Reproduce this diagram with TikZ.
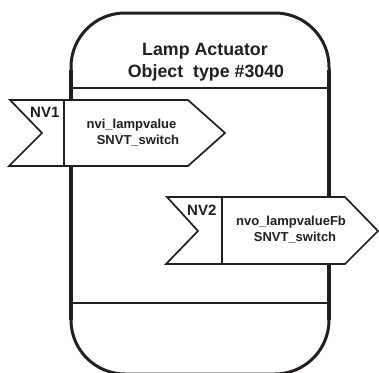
\documentclass[tikz,border=0pt]{standalone}
\usepackage{fontspec}
\setmainfont{Liberation Sans}
\definecolor{ink}{HTML}{231F20}
\begin{document}
\begin{tikzpicture}[x=1pt,y=-1pt,
  outline/.style={draw=ink,line width=3pt},
  sideline/.style={draw=ink,line width=4pt},
  sepline/.style={draw=ink,line width=2.8pt},
  flagshape/.style={draw=ink,fill=white,line width=1.7pt,line join=miter},
  titletext/.style={font=\bfseries\fontsize{17.8}{20}\selectfont,text=ink,inner sep=0pt,anchor=base},
  nvtext/.style={font=\bfseries\fontsize{15}{18}\selectfont,text=ink,inner sep=0pt,anchor=base west},
  vartext/.style={font=\bfseries\fontsize{13}{16}\selectfont,text=ink,inner sep=0pt,anchor=base}]
\useasboundingbox (0,0) rectangle (379,372);
\clip (0,0) rectangle (379,372);
% outer rounded body
\draw[outline,rounded corners=54pt] (71,374) rectangle (329,13);
\draw[sideline] (71,70) -- (71,320);
\draw[sideline] (329,70) -- (329,320);
% separators
\draw[sepline] (71,88) -- (329,88);
\draw[sepline] (71,303) -- (329,303);
% title
\node[titletext] (t1) at (205,55) {Lamp Actuator};
\node[titletext] (t2) at (206,77) {Object\ \ type \#3040};
% NV1 flag
\draw[flagshape] (10,100) -- (188,100) -- (225,133) -- (188,166) -- (9,166) -- (42,133) -- cycle;
\draw[ink,line width=1.7pt] (64,100) -- (64,166);
\node[nvtext] (nv1) at (30,117) {NV1};
\node[vartext] (v1a) at (131.5,128) {nvi\_lampvalue};
\node[vartext] (v1b) at (138,144) {SNVT\_switch};
% NV2 flag
\draw[flagshape] (167,197) -- (345,197) -- (378,231) -- (345,264) -- (166,264) -- (198,231) -- cycle;
\draw[ink,line width=1.7pt] (222,197) -- (222,264);
\node[nvtext] (nv2) at (187,215) {NV2};
\node[vartext] (v2a) at (291,225) {nvo\_lampvalueFb};
\node[vartext] (v2b) at (295,241) {SNVT\_switch};
\end{tikzpicture}
\end{document}
